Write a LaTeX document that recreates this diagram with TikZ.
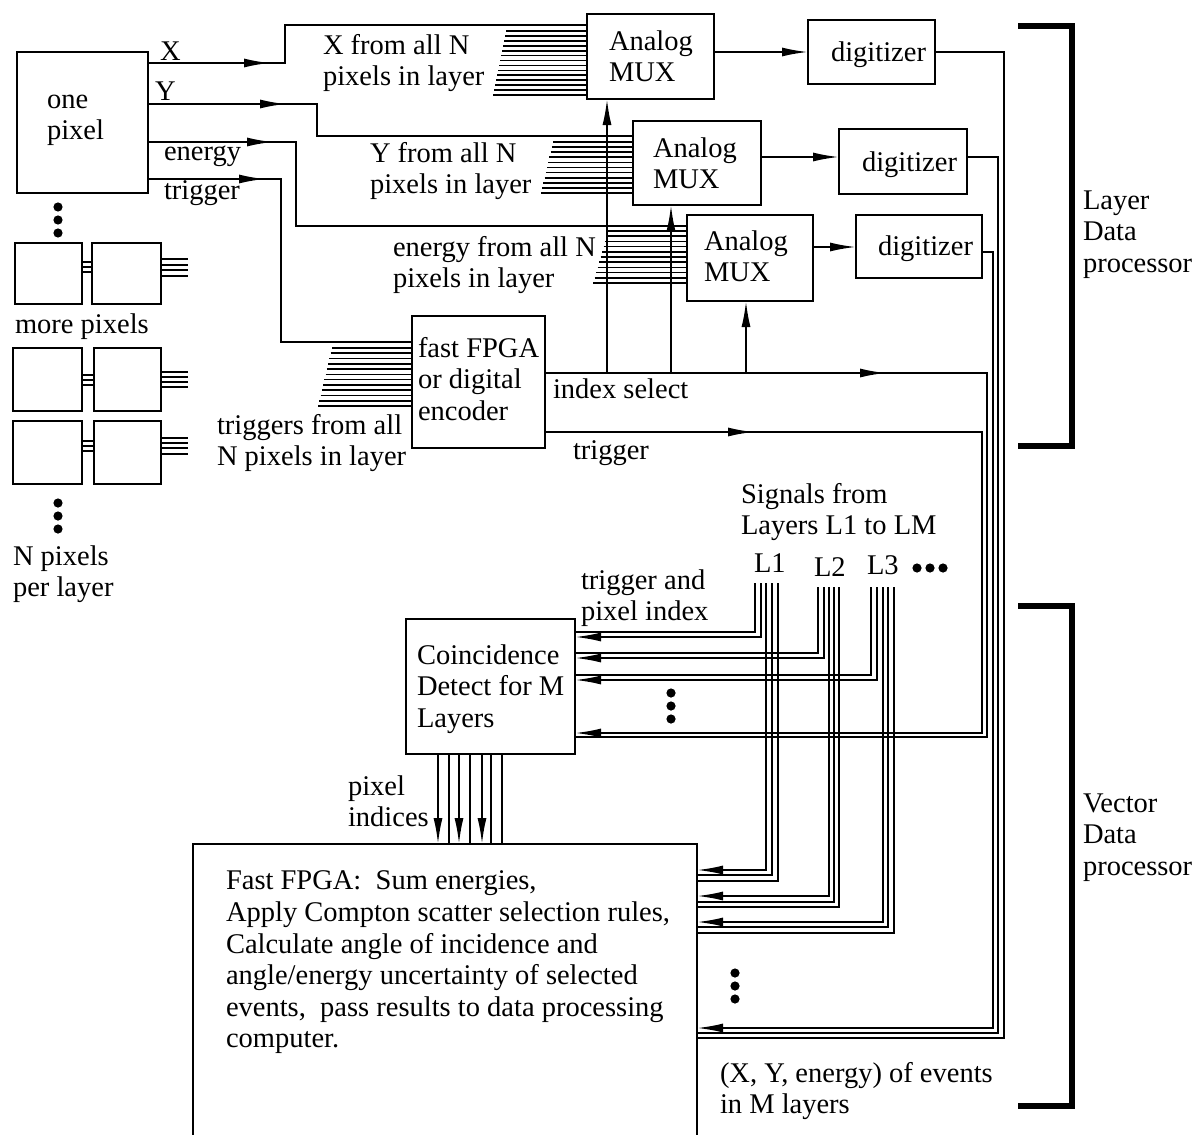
\documentclass[tikz,border=0pt]{standalone}
\usepackage{fontspec}
\setmainfont{Liberation Serif}
\usetikzlibrary{arrows.meta,decorations.markings,calc}
\newcommand\ml[1]{\begin{tabular}[t]{@{}l@{}}#1\end{tabular}}
\newcommand\inbox[3]{\makebox[#1][l]{\raisebox{#2}[\height][\depth]{\ml{#3}}}}
\begin{document}
\begin{tikzpicture}[x=1pt,y=-1pt,
  every node/.style={font=\fontsize{28.5}{31.6}\selectfont, inner sep=0pt, outer sep=0pt},
  wire/.style={line width=1.9pt},
  bus/.style={line width=1.7pt},
  box/.style={draw, line width=2.3pt, anchor=north west},
  lbl/.style={anchor=base west},
  >={Latex[length=26pt,width=9pt]},
  midarr/.style={postaction={decorate,decoration={markings,mark=at position #1 with {\arrow{>}}}}},
  bracket/.style={line width=6pt, line join=miter}
]
\useasboundingbox (0,0) rectangle (1197,1135);
\clip (0,0) rectangle (1197,1135);

% ---------- boxes ----------
\node[box, minimum width=131pt, minimum height=141pt] (pix) at (17,52) {\inbox{71pt}{4.9pt}{one\\pixel}};
\node[box, minimum width=127pt, minimum height=85pt] (mux1) at (587,14) {\inbox{83pt}{-3.1pt}{Analog\\MUX}};
\node[box, minimum width=128pt, minimum height=84pt] (mux2) at (633,121) {\inbox{88pt}{-3.6pt}{Analog\\MUX}};
\node[box, minimum width=126pt, minimum height=86pt] (mux3) at (687,215) {\inbox{92pt}{-1.6pt}{Analog\\MUX}};
\node[box, minimum width=127pt, minimum height=64pt] (dig1) at (808,20) {\inbox{81pt}{-3.6pt}{digitizer}};
\node[box, minimum width=128pt, minimum height=65pt] (dig2) at (839,129) {\inbox{82pt}{-4.1pt}{digitizer}};
\node[box, minimum width=126pt, minimum height=63pt] (dig3) at (856,215) {\inbox{82pt}{-3.1pt}{digitizer}};
\node[box, minimum width=133pt, minimum height=132pt] (fpga) at (412,316) {\inbox{121pt}{-0.6pt}{fast FPGA\\or digital\\encoder}};
\node[box, minimum width=169pt, minimum height=135pt] (coin) at (406,619) {\inbox{147pt}{-3.1pt}{Coincidence\\Detect for M\\Layers}};
\node[box, minimum width=504pt, minimum height=330pt] (big) at (193,844) {\inbox{438pt}{46.4pt}{Fast FPGA:\ \ Sum energies,\\Apply Compton scatter selection rules,\\Calculate angle of incidence and\\angle/energy uncertainty of selected\\events,\ \ pass results to data processing\\computer.}};

% small pixel boxes
\node[box, minimum width=67pt, minimum height=61pt] (sp1) at (15,243) {};
\node[box, minimum width=69pt, minimum height=61pt] (sp2) at (92,243) {};
\node[box, minimum width=69pt, minimum height=63pt] (sp3) at (13,348) {};
\node[box, minimum width=67pt, minimum height=63pt] (sp4) at (94,348) {};
\node[box, minimum width=69pt, minimum height=63pt] (sp5) at (13,421) {};
\node[box, minimum width=67pt, minimum height=63pt] (sp6) at (94,421) {};
\foreach \yy in {262,267,272} \draw[wire] (sp1.east|-0,\yy) -- (sp2.west|-0,\yy);
\foreach \yy in {259,265,270,276} \draw[wire] (sp2.east|-0,\yy) -- ++(27,0);
\foreach \yy in {375,380,385} \draw[wire] (sp3.east|-0,\yy) -- (sp4.west|-0,\yy);
\foreach \yy in {372,377,382,387} \draw[wire] (sp4.east|-0,\yy) -- ++(27,0);
\foreach \yy in {441,446,451} \draw[wire] (sp5.east|-0,\yy) -- (sp6.west|-0,\yy);
\foreach \yy in {438,443,448,454} \draw[wire] (sp6.east|-0,\yy) -- ++(27,0);

% dots
\foreach \yy in {207,220,233,503,516,529} \fill (58,\yy) circle[radius=4.6pt];
\foreach \yy in {693,706,719} \fill (671,\yy) circle[radius=4.6pt];
\foreach \yy in {973,986,999} \fill (735,\yy) circle[radius=4.6pt];
\foreach \xx in {917,930,943} \fill (\xx,568) circle[radius=4.6pt];

% ---------- labels ----------
\node[lbl] (lx) at (160,60) {X};
\node[lbl] (ly) at (155,100) {Y};
\node[lbl] (le) at (164,160) {energy};
\node[lbl] (lt) at (164,199) {trigger};
\node[lbl] (lxa) at (323,54) {\ml{X from all N\\pixels in layer}};
\node[lbl] (lya) at (370,162) {\ml{Y from all N\\pixels in layer}};
\node[lbl] (lea) at (393,256) {\ml{energy from all N\\pixels in layer}};
\node[lbl] (lmore) at (15,333) {more pixels};
\node[lbl] (ltr) at (217,434) {\ml{triggers from all\\N pixels in layer}};
\node[lbl] (lnp) at (13,565) {\ml{N pixels\\per layer}};
\node[lbl] (lis) at (553,398) {index select};
\node[lbl] (ltg) at (573,459) {trigger};
\node[lbl] (lsig) at (741,503) {\ml{Signals from\\Layers L1 to LM}};
\node[lbl] (L1) at (754,572) {L1};
\node[lbl] (L2) at (814,576) {L2};
\node[lbl] (L3) at (867,574) {L3};
\node[lbl] (ltpi) at (581,589) {\ml{trigger and\\pixel index}};
\node[lbl] (lpi) at (348,795) {\ml{pixel\\indices}};
\node[lbl] (lxye) at (720,1082) {\ml{(X, Y, energy) of events\\in M layers}};
\node[lbl] (lldp) at (1083,209) {\ml{Layer\\Data\\processor}};
\node[lbl] (lvdp) at (1083,812) {\ml{Vector\\Data\\processor}};

% ---------- buses ----------
\foreach \i in {0,...,13} {\pgfmathsetmacro\yy{31+\i*4.92}\pgfmathsetmacro\xx{506-\i*1.0}\draw[bus] (\xx,\yy) -- (mux1.west|-0,\yy);}
\foreach \i in {0,...,10} {\pgfmathsetmacro\yy{142+\i*5.1}\pgfmathsetmacro\xx{553-\i*1.2}\draw[bus] (\xx,\yy) -- (mux2.west|-0,\yy);}
\foreach \i in {0,...,10} {\pgfmathsetmacro\yy{231+\i*5.2}\pgfmathsetmacro\xx{608-\i*1.5}\draw[bus] (\xx,\yy) -- (mux3.west|-0,\yy);}
\foreach \i in {0,...,11} {\pgfmathsetmacro\yy{348+\i*5.27}\pgfmathsetmacro\xx{332-\i*1.27}\draw[bus] (\xx,\yy) -- (fpga.west|-0,\yy);}

% ---------- pixel outputs ----------
\draw[wire,midarr=122pt] (pix.east|-0,63) -- (285,63) |- (mux1.west|-0,25);
\draw[wire,midarr=138pt] (pix.east|-0,104) -- (317,104) |- (mux2.west|-0,136);
\draw[wire,midarr=125pt] (pix.east|-0,142) -- (296,142) |- (mux3.west|-0,226);
\draw[wire,midarr=117pt] (pix.east|-0,179) -- (281,179) |- (fpga.west|-0,342);

% ---------- MUX -> digitizers ----------
\draw[wire,->] (mux1.east|-0,52) -- (dig1.west|-0,52);
\draw[wire,->] (mux2.east|-0,157) -- (dig2.west|-0,157);
\draw[wire,->] (mux3.east|-0,247) -- (dig3.west|-0,247);

% ---------- index select / trigger ----------
\draw[wire,midarr=341pt] (fpga.east|-0,373) -- (987,373) |- (coin.east|-0,737);
\draw[wire,midarr=209pt,->] (fpga.east|-0,432) -- (982,432) |- (coin.east|-0,733);
\draw[wire,->] (607,373) -- (mux1.south-|607,0);
\draw[wire,->] (671,373) -- (mux2.south-|671,0);
\draw[wire,->] (746,373) -- (mux3.south-|746,0);

% ---------- digitizer outputs ----------
\draw[wire] (dig1.east) -- (1004,52) |- (big.east|-0,1038);
\draw[wire] (dig2.east|-0,157) -- (998,157) |- (big.east|-0,1033);
\draw[wire,->] (dig3.east|-0,252) -- (993,252) |- (big.east|-0,1028);

% ---------- layer signals ----------
\foreach \xx/\ys/\yy in {755/583/632, 818/587/653, 871/587/675} \draw[wire] (\xx,\ys) |- (coin.east|-0,\yy);
\foreach \xx/\ys/\yy in {761/583/637, 824/587/658, 877/587/680} \draw[wire,->] (\xx,\ys) |- (coin.east|-0,\yy);
\foreach \xx/\ys/\yy in {766/583/870, 829/587/896, 883/587/922} \draw[wire,->] (\xx,\ys) |- (big.east|-0,\yy);
\foreach \xx/\ys/\yy in {772/583/875, 778/583/881, 834/587/902, 839/587/907, 888/587/927, 894/587/933} \draw[wire] (\xx,\ys) |- (big.east|-0,\yy);

% ---------- pixel indices ----------
\foreach \xx in {449,470,491,502} \draw[wire] (coin.south-|\xx,0) -- (big.north-|\xx,0);
\foreach \xx in {438,459,482} \draw[wire,->] (coin.south-|\xx,0) -- (big.north-|\xx,0);

% ---------- brackets ----------
\draw[bracket] (1018,26) -- (1072,26) -- (1072,446) -- (1018,446);
\draw[bracket] (1018,606) -- (1072,606) -- (1072,1106) -- (1018,1106);
\end{tikzpicture}
\end{document}
